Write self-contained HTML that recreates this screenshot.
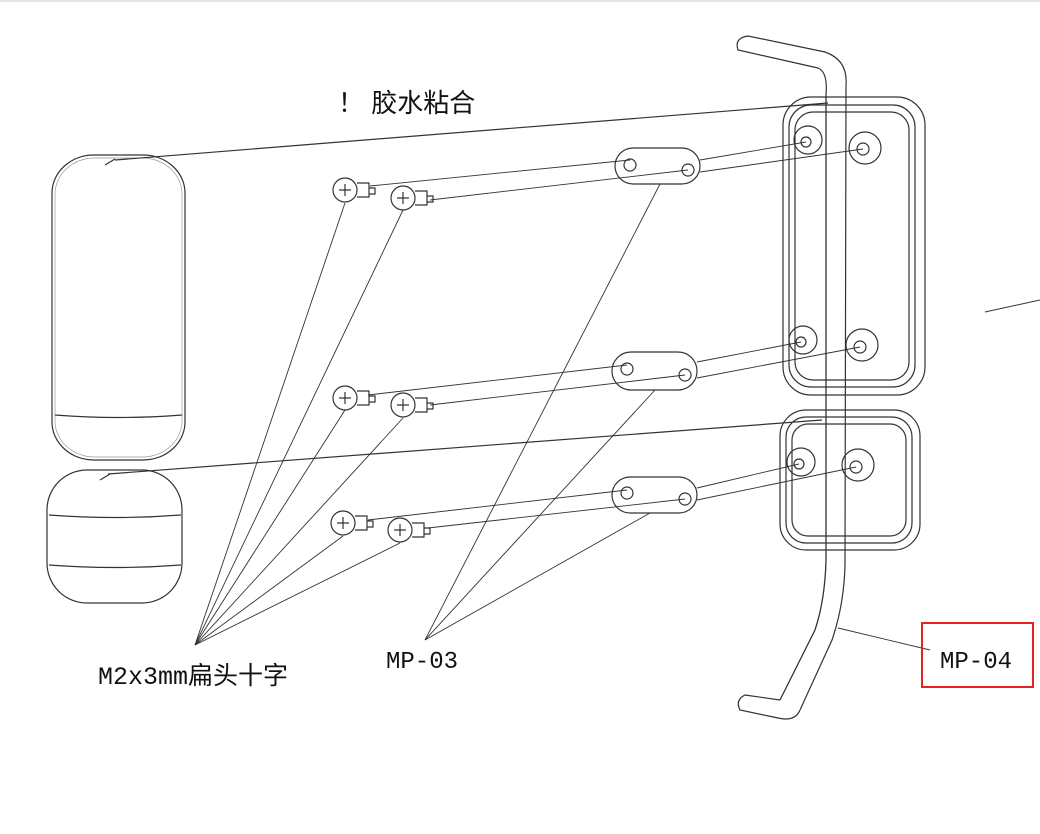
<!DOCTYPE html>
<html><head><meta charset="utf-8"><style>
html,body{margin:0;padding:0;background:#fff;}
svg{display:block}
text{font-family:"Liberation Mono","Noto Sans CJK SC",monospace;fill:#111}
</style></head><body>
<svg width="1040" height="834" viewBox="0 0 1040 834" xmlns="http://www.w3.org/2000/svg">
<line x1="0" y1="1" x2="1040" y2="1" stroke="#ccc" stroke-width="1"/>
<g fill="none" stroke="#333" stroke-width="1.2">
<rect x="52" y="155" width="133" height="305" rx="42" ry="38"/>
<rect x="55" y="158" width="127" height="299" rx="40" ry="36" stroke="#999" stroke-width="0.7"/>
<path d="M55 415 Q118 420 182 415"/>
<rect x="47" y="470" width="135" height="133" rx="40" ry="40"/>
<path d="M49 515 Q115 520 181 515 M49 565 Q115 570 181 565"/>
<path d="M105 165 l10 -6 M100 480 l10 -6"/>
<line x1="115" y1="160" x2="828" y2="103"/>
<line x1="108" y1="474" x2="822" y2="420"/>
<rect x="783" y="97" width="142" height="298" rx="28"/>
<rect x="789" y="105" width="126" height="282" rx="22"/>
<rect x="795" y="112" width="114" height="268" rx="18"/>
<rect x="780" y="410" width="140" height="140" rx="26"/>
<rect x="786" y="417" width="126" height="126" rx="20"/>
<rect x="792" y="424" width="114" height="112" rx="16"/>
<g>
<circle cx="808" cy="140" r="14"/><circle cx="806" cy="142" r="5"/>
<circle cx="865" cy="148" r="16"/><circle cx="863" cy="149" r="6"/>
<circle cx="803" cy="340" r="14"/><circle cx="801" cy="342" r="5"/>
<circle cx="862" cy="345" r="16"/><circle cx="860" cy="347" r="6"/>
<circle cx="801" cy="462" r="14"/><circle cx="799" cy="464" r="5"/>
<circle cx="858" cy="465" r="16"/><circle cx="856" cy="467" r="6"/>
</g>
<!-- bar tube -->
<path d="M826 95 L826 560 Q825 600 815 630 L780 700" stroke-width="1.3"/>
<path d="M846 85 L845 565 Q844 605 832 640 L800 710"/>
<path d="M846 85 Q848 60 825 52 L748 36 Q734 38 738 50 L818 68 Q828 72 826 95" fill="#fff"/>
<path d="M780 700 L745 695 Q735 700 740 710 L778 718 Q795 722 800 710" fill="#fff"/>
<g>
<circle cx="345" cy="190" r="12"/><path d="M339 190 h12 M345 184 v12"/><path d="M357 183 h12 v14 h-12"/><path d="M369 188 h6 v6 h-6"/>
</g>
<g transform="translate(58,8)"><circle cx="345" cy="190" r="12"/><path d="M339 190 h12 M345 184 v12"/><path d="M357 183 h12 v14 h-12"/><path d="M369 188 h6 v6 h-6"/></g>
<g transform="translate(0,208)"><circle cx="345" cy="190" r="12"/><path d="M339 190 h12 M345 184 v12"/><path d="M357 183 h12 v14 h-12"/><path d="M369 188 h6 v6 h-6"/></g>
<g transform="translate(58,215)"><circle cx="345" cy="190" r="12"/><path d="M339 190 h12 M345 184 v12"/><path d="M357 183 h12 v14 h-12"/><path d="M369 188 h6 v6 h-6"/></g>
<g transform="translate(-2,333)"><circle cx="345" cy="190" r="12"/><path d="M339 190 h12 M345 184 v12"/><path d="M357 183 h12 v14 h-12"/><path d="M369 188 h6 v6 h-6"/></g>
<g transform="translate(55,340)"><circle cx="345" cy="190" r="12"/><path d="M339 190 h12 M345 184 v12"/><path d="M357 183 h12 v14 h-12"/><path d="M369 188 h6 v6 h-6"/></g>
<rect x="615" y="148" width="85" height="36" rx="18"/><circle cx="630" cy="165" r="6"/><circle cx="688" cy="170" r="6"/>
<rect x="612" y="352" width="85" height="38" rx="19"/><circle cx="627" cy="369" r="6"/><circle cx="685" cy="375" r="6"/>
<rect x="612" y="477" width="85" height="36" rx="18"/><circle cx="627" cy="493" r="6"/><circle cx="685" cy="499" r="6"/>
<g stroke-width="0.9">
<line x1="370" y1="186" x2="630" y2="160"/><line x1="430" y1="200" x2="688" y2="170"/>
<line x1="700" y1="160" x2="806" y2="142"/><line x1="700" y1="172" x2="863" y2="149"/>
<line x1="368" y1="395" x2="627" y2="365"/><line x1="430" y1="405" x2="685" y2="375"/>
<line x1="697" y1="362" x2="801" y2="342"/><line x1="697" y1="378" x2="860" y2="347"/>
<line x1="368" y1="520" x2="627" y2="490"/><line x1="428" y1="528" x2="685" y2="499"/>
<line x1="697" y1="488" x2="799" y2="464"/><line x1="697" y1="500" x2="856" y2="467"/>
</g>
<g stroke-width="0.9">
<line x1="195" y1="645" x2="345" y2="203"/><line x1="195" y1="645" x2="403" y2="210"/>
<line x1="195" y1="645" x2="345" y2="410"/><line x1="195" y1="645" x2="403" y2="418"/>
<line x1="195" y1="645" x2="343" y2="536"/><line x1="195" y1="645" x2="400" y2="543"/>
<line x1="425" y1="640" x2="660" y2="184"/><line x1="425" y1="640" x2="655" y2="390"/>
<line x1="425" y1="640" x2="650" y2="513"/>
<line x1="838" y1="628" x2="930" y2="650"/>
<line x1="985" y1="312" x2="1040" y2="300"/>
</g>
</g>
<text x="338" y="112" font-size="26" style="font-family:'Liberation Sans','Noto Sans CJK SC',sans-serif">！ 胶水粘合</text>
<text x="98" y="684" font-size="25">M2x3mm扁头十字</text>
<text x="386" y="668" font-size="24">MP-03</text>
<text x="940" y="668" font-size="24">MP-04</text>
<rect x="922" y="623" width="111" height="64" fill="none" stroke="#e52222" stroke-width="2"/>
</svg>
</body></html>
